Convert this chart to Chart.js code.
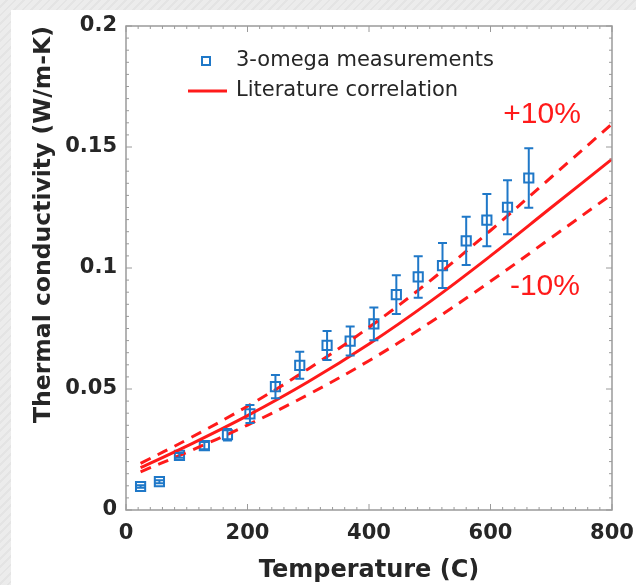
<!DOCTYPE html>
<html>
<head>
<meta charset="utf-8">
<script src="https://cdn.jsdelivr.net/npm/chart.js@4.4.1/dist/chart.umd.min.js"></script>
<style>
  html, body { margin: 0; padding: 0; }
  body {
    width: 636px; height: 585px; overflow: hidden; position: relative;
    background: repeating-linear-gradient(135deg, #ececec 0px, #ececec 4px, #e4e4e4 4px, #e4e4e4 6px);
  }
  #card { position: absolute; left: 11px; top: 10px; right: 0; bottom: 0; background: #fff; }
  #wrap { position: absolute; left: 0; top: 0; width: 636px; height: 585px; }
</style>
</head>
<body>
<div id="card"></div>
<div id="wrap"><canvas id="chart"></canvas></div>
<script>
// Данные измерений 3-omega
const tempMeas = [24, 55, 88, 129, 167, 204, 246, 286, 331, 369, 408, 445, 481, 521, 560, 594, 628, 663];
const kMeas = [0.0097, 0.0117, 0.0226, 0.0266, 0.0311, 0.0397, 0.0510, 0.0598, 0.0680, 0.0698, 0.0769, 0.0890, 0.0963, 0.1010, 0.1112, 0.1198, 0.1251, 0.1372];
const kErr = [0.0005, 0.0006, 0.0010, 0.0015, 0.0024, 0.0037, 0.0048, 0.0056, 0.0060, 0.0060, 0.0068, 0.0080, 0.0086, 0.0093, 0.0100, 0.0108, 0.0112, 0.0123];

// Литературная корреляция и коридор ±10%
const tempLit = [24, 100, 200, 300, 400, 500, 600, 700, 800];
const kLit = [0.0175, 0.0264, 0.0390, 0.0530, 0.0686, 0.0860, 0.1050, 0.1250, 0.1450];
const kLitUp = [0.0193, 0.0290, 0.0429, 0.0583, 0.0755, 0.0946, 0.1155, 0.1375, 0.1595];
const kLitLow = [0.0158, 0.0238, 0.0351, 0.0477, 0.0617, 0.0774, 0.0945, 0.1125, 0.1305];

// Подписи осей
const xTicks = [0, 200, 400, 600, 800];
const yTicks = [0, 0.05, 0.1, 0.15, 0.2];

const blue = '#1f78c8';
const red = '#ff1a1a';
const textColor = '#262626';
const frameColor = '#9a9a9a';

const toPoints = (xs, ys) => xs.map((x, i) => ({ x: x, y: ys[i] }));

// Плагин: рамка, внутренние засечки, планки погрешностей, легенда и подписи
const decorations = {
  id: 'decorations',
  afterDatasetsDraw(chart) {
    const ctx = chart.ctx;
    const xs = chart.scales.x;
    const ys = chart.scales.y;
    const a = chart.chartArea;

    ctx.save();
    // рамка
    ctx.strokeStyle = frameColor;
    ctx.lineWidth = 1.5;
    ctx.strokeRect(a.left, a.top, a.right - a.left, a.bottom - a.top);

    // засечки внутрь на всех сторонах
    ctx.lineWidth = 1;
    for (let v = 0; v <= 800; v += 20) {
      const px = xs.getPixelForValue(v);
      const len = v % 200 === 0 ? 6 : 3;
      ctx.beginPath();
      ctx.moveTo(px, a.bottom); ctx.lineTo(px, a.bottom - len);
      ctx.moveTo(px, a.top); ctx.lineTo(px, a.top + len);
      ctx.stroke();
    }
    for (let i = 0; i <= 40; i++) {
      const v = i * 0.005;
      const py = ys.getPixelForValue(v);
      const len = i % 10 === 0 ? 6 : 3;
      ctx.beginPath();
      ctx.moveTo(a.left, py); ctx.lineTo(a.left + len, py);
      ctx.moveTo(a.right, py); ctx.lineTo(a.right - len, py);
      ctx.stroke();
    }

    // планки погрешностей
    ctx.strokeStyle = blue;
    ctx.lineWidth = 2;
    tempMeas.forEach((t, i) => {
      const px = xs.getPixelForValue(t);
      const top = ys.getPixelForValue(kMeas[i] + kErr[i]);
      const bot = ys.getPixelForValue(kMeas[i] - kErr[i]);
      ctx.beginPath();
      ctx.moveTo(px, top); ctx.lineTo(px, bot);
      ctx.moveTo(px - 4.5, top); ctx.lineTo(px + 4.5, top);
      ctx.moveTo(px - 4.5, bot); ctx.lineTo(px + 4.5, bot);
      ctx.stroke();
    });

    // легенда
    const lx = a.left + 80;
    const ly1 = a.top + 35;
    const ly2 = a.top + 65;
    ctx.strokeStyle = blue;
    ctx.lineWidth = 2;
    ctx.strokeRect(lx - 4, ly1 - 4, 8, 8);
    ctx.strokeStyle = red;
    ctx.lineWidth = 3;
    ctx.beginPath();
    ctx.moveTo(lx - 18, ly2); ctx.lineTo(lx + 21, ly2);
    ctx.stroke();
    ctx.fillStyle = textColor;
    ctx.font = '21px "DejaVu Sans"';
    ctx.textBaseline = 'middle';
    ctx.textAlign = 'left';
    ctx.fillText('3-omega measurements', lx + 30, ly1);
    ctx.fillText('Literature correlation', lx + 30, ly2);

    // подписи коридора
    ctx.fillStyle = red;
    ctx.font = '30px "Liberation Sans"';
    ctx.textBaseline = 'alphabetic';
    ctx.fillText('+10%', xs.getPixelForValue(621), ys.getPixelForValue(0.160));
    ctx.fillText('-10%', xs.getPixelForValue(632), ys.getPixelForValue(0.0888));
    ctx.restore();
  }
};

const lineStyle = (data, dash) => ({
  data: data,
  showLine: true,
  borderColor: red,
  borderWidth: 3,
  borderDash: dash,
  pointRadius: 0,
  tension: 0.4,
  fill: false,
});

const ctx = document.getElementById('chart').getContext('2d');
new Chart(ctx, {
  type: 'scatter',
  data: {
    datasets: [
      lineStyle(toPoints(tempLit, kLit), []),
      lineStyle(toPoints(tempLit, kLitUp), [11, 8]),
      lineStyle(toPoints(tempLit, kLitLow), [11, 8]),
      {
        data: toPoints(tempMeas, kMeas),
        pointStyle: 'rect',
        pointRadius: 6.5,
        borderWidth: 2,
        borderColor: blue,
        backgroundColor: 'rgba(0,0,0,0)',
      },
    ],
  },
  options: {
    responsive: true,
    maintainAspectRatio: false,
    animation: false,
    layout: { padding: { left: 30, top: 26, right: 24, bottom: 0 } },
    plugins: { legend: { display: false }, tooltip: { enabled: false } },
    scales: {
      x: {
        type: 'linear',
        min: 0,
        max: 800,
        afterBuildTicks: (s) => { s.ticks = xTicks.map((v) => ({ value: v })); },
        afterFit: (s) => { s.height = 75; s.paddingLeft = 0; s.paddingRight = 0; },
        grid: { display: false, drawTicks: false },
        border: { display: false },
        ticks: {
          padding: 11,
          color: textColor,
          font: { family: 'DejaVu Sans', size: 21, weight: 'bold' },
          maxRotation: 0,
        },
        title: {
          display: true,
          text: 'Temperature (C)',
          color: textColor,
          font: { family: 'DejaVu Sans', size: 24, weight: 'bold' },
          padding: { top: 3, bottom: 0 },
        },
      },
      y: {
        type: 'linear',
        min: 0,
        max: 0.2,
        afterBuildTicks: (s) => { s.ticks = yTicks.map((v) => ({ value: v })); },
        afterFit: (s) => { s.width = 96; s.paddingTop = 0; s.paddingBottom = 0; },
        grid: { display: false, drawTicks: false },
        border: { display: false },
        ticks: {
          padding: 9,
          color: textColor,
          font: { family: 'DejaVu Sans', size: 21, weight: 'bold' },
          callback: (v) => String(v),
        },
        title: {
          display: true,
          text: 'Thermal conductivity (W/m-K)',
          align: 'end',
          color: textColor,
          font: { family: 'DejaVu Sans', size: 23.5, weight: 'bold' },
          padding: { top: 0, bottom: 4 },
        },
      },
    },
  },
  plugins: [decorations],
});
</script>
</body>
</html>
